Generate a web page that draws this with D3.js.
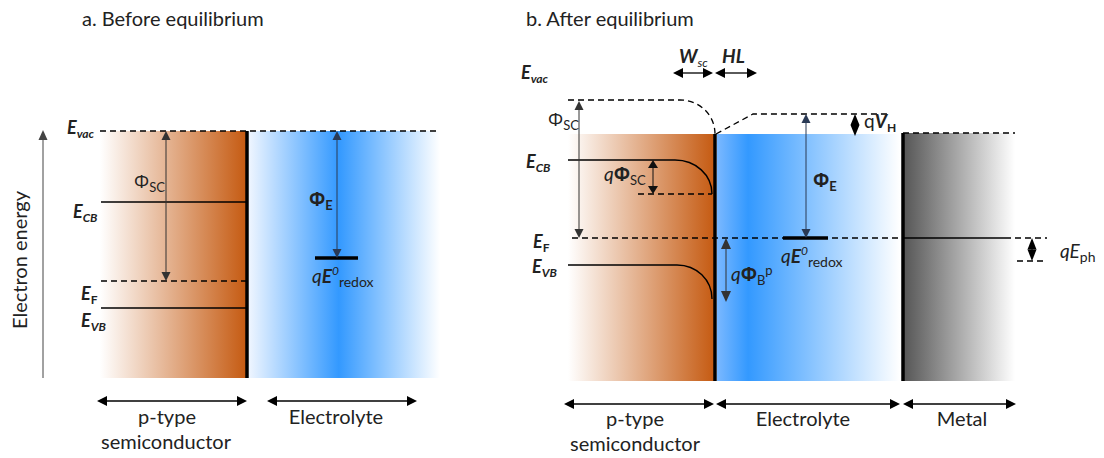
<!DOCTYPE html>
<html>
<head>
<meta charset="utf-8">
<script src="https://cdn.jsdelivr.net/npm/d3@7"></script>
<style>
  body { margin: 0; background: #fff; }
  svg { display: block; }
  text { font-family: Lato, "Open Sans", sans-serif; fill: #222; }
</style>
</head>
<body>
<svg id="fig" width="1104" height="458"></svg>
<script>
// ---- Data -------------------------------------------------------------
const panelTitles = ["a. Before equilibrium", "b. After equilibrium"];
const regionNamesA = ["p-type\nsemiconductor", "Electrolyte"];
const regionNamesB = ["p-type\nsemiconductor", "Electrolyte", "Metal"];
const layerNames = ["W", "HL"];

// Energies in eV, measured downward from the vacuum level at the
// semiconductor surface (positive = deeper / lower electron energy).
// Panel a: flat bands before contact.
const levelIdsA = ["Evac", "ECB", "EF", "EVB"];
const levelEnergyA = [0, 1.42, 3.0, 3.54];
const redoxEnergyA = 2.54;
const bottomEnergyA = 4.94;

// Panel b: bulk and surface values after equilibration.
const levelIdsB = ["Evac", "ECB", "EF", "EVB"];
const bulkEnergyB = [-0.68, 0.52, 2.08, 2.62];
const surfaceEnergyB = [0.0, 1.20, 2.08, 3.30];
const electrolyteVacB = -0.40;  // vacuum level across the electrolyte
const metalVacB = -0.02;        // vacuum level in the metal
const photoEnergyB = 0.46;      // qEph offset below EF
const barrierB = 1.28;          // qΦB^p
const bottomEnergyB = 4.94;

// ---- Scales -----------------------------------------------------------
const yA = d3.scaleLinear().domain([0, bottomEnergyA]).range([131, 378]);
const yB = d3.scaleLinear().domain([0, bottomEnergyB]).range([134, 381]);
// horizontal positions in nm-like units from the left edge of each stack
const xA = d3.scaleLinear().domain([0, 340]).range([100, 440]);
const xB = d3.scaleLinear().domain([0, 447]).range([568, 1015]);

// layout positions along x (same units as the x scales)
const A = { scL: 0, iface: 147, elR: 340 };
const B = { scL: 0, bendStart: 107, iface: 147, elL: 149, elR: 332, metal: 335, metR: 447,
            hl: 189, wsc: 105 };

const svg = d3.select("#fig");
const defs = svg.append("defs");

function gradient(id, stops) {
  const g = defs.append("linearGradient").attr("id", id)
    .attr("x1", 0).attr("x2", 1).attr("y1", 0).attr("y2", 0);
  stops.forEach(([o, c]) => g.append("stop").attr("offset", o).attr("stop-color", c));
}
gradient("scGrad", [[0, "#ffffff"], [1, "#c55a11"]]);
gradient("elGradA", [[0, "#eef5ff"], [0.47, "#3399ff"], [1, "#ffffff"]]);
gradient("elGradB", [[0, "#7ab8ff"], [0.17, "#3399ff"], [1, "#ffffff"]]);
gradient("metalGrad", [[0, "#555555"], [1, "#ffffff"]]);

// ---- Helpers ----------------------------------------------------------
function arrow(g, x1, y1, x2, y2, o = {}) {
  const { head = 9, hw = 4.5, start = true, end = true, color = "#333", width = 1 } = o;
  const dx = x2 - x1, dy = y2 - y1, L = Math.hypot(dx, dy);
  const ux = dx / L, uy = dy / L, px = -uy, py = ux;
  const sx = start ? x1 + ux * head * 0.7 : x1, sy = start ? y1 + uy * head * 0.7 : y1;
  const ex = end ? x2 - ux * head * 0.7 : x2, ey = end ? y2 - uy * head * 0.7 : y2;
  g.append("line").attr("x1", sx).attr("y1", sy).attr("x2", ex).attr("y2", ey)
    .attr("stroke", color).attr("stroke-width", width);
  const tri = (tx, ty, vx, vy) => {
    const bx = tx - vx * head, by = ty - vy * head;
    return `M${tx},${ty}L${bx + px * hw},${by + py * hw}L${bx - px * hw},${by - py * hw}Z`;
  };
  if (end) g.append("path").attr("d", tri(x2, y2, ux, uy)).attr("fill", color);
  if (start) g.append("path").attr("d", tri(x1, y1, -ux, -uy)).attr("fill", color);
}

function hline(g, x1, x2, y, o = {}) {
  g.append("line").attr("x1", x1).attr("x2", x2).attr("y1", y).attr("y2", y)
    .attr("stroke", o.color || "#000").attr("stroke-width", o.width || 1.4)
    .attr("stroke-dasharray", o.dash || null);
}

// band that is flat in the bulk and bends down into the surface
function bentBand(g, x0, xb, xs, y0, ys, o = {}) {
  const p = d3.path();
  p.moveTo(x0, y0);
  p.lineTo(xb, y0);
  const rx = xs - xb, ry = ys - y0, k = 0.56;
  p.bezierCurveTo(xb + rx * k, y0, xs, ys - ry * k, xs, ys);
  g.append("path").attr("d", p.toString()).attr("fill", "none")
    .attr("stroke", o.color || "#000").attr("stroke-width", o.width || 1.4)
    .attr("stroke-dasharray", o.dash || null);
}

// text with sub/superscripts: parts = [{t, size, bold, italic, shift, font}]
function rich(g, x, y, parts, anchor = "start") {
  const t = g.append("text").attr("x", x).attr("y", y).attr("text-anchor", anchor);
  let cur = 0;
  parts.forEach(p => {
    const s = p.shift || 0;
    const ts = t.append("tspan").attr("dy", -(s - cur)).text(p.t)
      .attr("font-size", p.size || 17)
      .attr("font-weight", p.bold ? "bold" : "normal")
      .attr("font-style", p.italic ? "italic" : "normal");
    if (p.font) ts.style("font-family", p.font);
    cur = s;
  });
  return t;
}
const GREEK = "'Open Sans', 'DejaVu Sans', sans-serif";
const E = (sub, subBold = true, subItalic = true) => [
  { t: "E", bold: true, italic: true, size: 18 },
  { t: sub, bold: subBold, italic: subItalic, size: 12, shift: -4 }
];
const PHI = (sub, bold = false, q = false) => [
  ...(q ? [{ t: "q", italic: true, size: 19 }] : []),
  { t: "Φ", size: 19, bold: bold, font: GREEK },
  { t: sub, size: 13, bold: bold && sub === "E", shift: -4 }
];
const REDOX = [
  { t: "q", italic: true, size: 19 },
  { t: "E", italic: true, bold: true, size: 19 },
  { t: "0", italic: true, size: 12, shift: 8 },
  { t: "redox", size: 14, shift: -4 }
];
const LABEL = 20;

// ---- Titles & axis ----------------------------------------------------
svg.append("text").attr("x", 82).attr("y", 26).attr("font-size", LABEL).text(panelTitles[0]);
svg.append("text").attr("x", 526).attr("y", 26).attr("font-size", LABEL).text(panelTitles[1]);

const axis = svg.append("g");
arrow(axis, 43, 378, 43, 130, { start: false, head: 10, hw: 4.5, color: "#444" });
axis.append("text").attr("transform", "translate(27,260) rotate(-90)")
  .attr("text-anchor", "middle").attr("font-size", LABEL).text("Electron energy");

// ---- Panel a ----------------------------------------------------------
const ga = svg.append("g");
ga.append("rect").attr("x", xA(A.scL)).attr("y", yA(0))
  .attr("width", xA(A.iface) - xA(A.scL)).attr("height", yA(bottomEnergyA) - yA(0))
  .attr("fill", "url(#scGrad)");
ga.append("rect").attr("x", xA(A.iface) + 2).attr("y", yA(0))
  .attr("width", xA(A.elR) - xA(A.iface) - 2).attr("height", yA(bottomEnergyA) - yA(0))
  .attr("fill", "url(#elGradA)");

const lvA = Object.fromEntries(levelIdsA.map((k, i) => [k, levelEnergyA[i]]));
hline(ga, xA(A.scL), xA(A.elR), yA(lvA.Evac), { dash: "6,4", width: 1.3 });
hline(ga, xA(A.scL) + 1, xA(A.iface), yA(lvA.ECB));
hline(ga, xA(A.scL) + 1, xA(A.iface), yA(lvA.EF), { dash: "6,4", width: 1.3 });
hline(ga, xA(A.scL) + 1, xA(A.iface), yA(lvA.EVB));
ga.append("line").attr("x1", xA(A.iface)).attr("x2", xA(A.iface))
  .attr("y1", yA(0)).attr("y2", yA(bottomEnergyA)).attr("stroke", "#000").attr("stroke-width", 3.5);

// redox level in electrolyte
hline(ga, xA(215), xA(258), yA(redoxEnergyA), { width: 3.5 });
arrow(ga, xA(66), yA(lvA.Evac), xA(66), yA(lvA.EF), { color: "#333" });
arrow(ga, xA(237), yA(lvA.Evac), xA(237), yA(redoxEnergyA), { color: "#2a3a55" });

rich(ga, 67, 134, E("vac"));
rich(ga, 73, 218, E("CB"));
rich(ga, 81, 300, E("F", true, false));
rich(ga, 81, 327, E("VB"));
rich(ga, 134, 188, PHI("SC"));
rich(ga, 309, 206, PHI("E", true));
rich(ga, 312, 283, REDOX);

// region labels
arrow(ga, 97, 401, 247, 401, { head: 10, hw: 5, color: "#000", width: 1.3 });
arrow(ga, 267, 401, 417, 401, { head: 10, hw: 5, color: "#000", width: 1.3 });
const [scNameA1, scNameA2] = regionNamesA[0].split("\n");
ga.append("text").attr("x", 167).attr("y", 424).attr("text-anchor", "middle").attr("font-size", LABEL).text(scNameA1);
ga.append("text").attr("x", 166).attr("y", 449).attr("text-anchor", "middle").attr("font-size", LABEL).text(scNameA2);
ga.append("text").attr("x", 336).attr("y", 424).attr("text-anchor", "middle").attr("font-size", LABEL).text(regionNamesA[1]);

// ---- Panel b ----------------------------------------------------------
const gb = svg.append("g");
const bulk = Object.fromEntries(levelIdsB.map((k, i) => [k, bulkEnergyB[i]]));
const surf = Object.fromEntries(levelIdsB.map((k, i) => [k, surfaceEnergyB[i]]));

gb.append("rect").attr("x", xB(B.scL)).attr("y", yB(0))
  .attr("width", xB(B.iface) - xB(B.scL)).attr("height", yB(bottomEnergyB) - yB(0))
  .attr("fill", "url(#scGrad)");
gb.append("rect").attr("x", xB(B.elL)).attr("y", yB(0))
  .attr("width", xB(B.elR) - xB(B.elL)).attr("height", yB(bottomEnergyB) - yB(0))
  .attr("fill", "url(#elGradB)");
gb.append("rect").attr("x", xB(B.metal)).attr("y", yB(metalVacB))
  .attr("width", xB(B.metR) - xB(B.metal)).attr("height", yB(bottomEnergyB) - yB(metalVacB))
  .attr("fill", "url(#metalGrad)");

// vacuum level: bends down to the surface, then rises across the Helmholtz layer
bentBand(gb, xB(B.scL), xB(112), xB(B.iface), yB(bulk.Evac), yB(surf.Evac), { dash: "6,4", width: 1.3 });
gb.append("path").attr("fill", "none").attr("stroke", "#000").attr("stroke-width", 1.3)
  .attr("stroke-dasharray", "6,4")
  .attr("d", d3.line()([[xB(B.iface) + 1, yB(surf.Evac)], [xB(B.hl - 4), yB(electrolyteVacB)], [xB(320), yB(electrolyteVacB)]]));
hline(gb, xB(B.metal), xB(B.metR), yB(metalVacB), { dash: "6,4", width: 1.3 });

// conduction and valence bands
bentBand(gb, xB(B.scL), xB(B.bendStart), xB(144), yB(bulk.ECB), yB(surf.ECB));
hline(gb, xB(70), xB(144), yB(surf.ECB), { dash: "6,4", width: 1.3 });
bentBand(gb, xB(B.scL), xB(109), xB(144), yB(bulk.EVB), yB(surf.EVB));

// Fermi level continuous through the stack
hline(gb, xB(4), xB(B.metal), yB(bulk.EF), { dash: "6,4", width: 1.3 });
hline(gb, xB(B.metal), xB(437), yB(bulk.EF), { width: 1.4 });
hline(gb, xB(437), xB(479), yB(bulk.EF), { dash: "6,4", width: 1.3 });
hline(gb, xB(449), xB(479), yB(bulk.EF + photoEnergyB), { dash: "6,4", width: 1.3 });

// interfaces
gb.append("line").attr("x1", xB(B.iface)).attr("x2", xB(B.iface))
  .attr("y1", yB(0)).attr("y2", yB(bottomEnergyB)).attr("stroke", "#000").attr("stroke-width", 3.5);
gb.append("line").attr("x1", xB(B.metal)).attr("x2", xB(B.metal))
  .attr("y1", yB(metalVacB)).attr("y2", yB(bottomEnergyB)).attr("stroke", "#000").attr("stroke-width", 3.5);

// redox level
hline(gb, xB(215), xB(260), yB(bulk.EF), { width: 3.5 });

// arrows
arrow(gb, xB(11), yB(bulk.Evac) + 1, xB(11), yB(bulk.EF), { color: "#333" });
arrow(gb, xB(85), yB(bulk.ECB), xB(85), yB(surf.ECB), { head: 8, hw: 5, color: "#111" });
arrow(gb, xB(158), yB(bulk.EF), xB(158), yB(bulk.EF + barrierB), { head: 11, hw: 5, color: "#333" });
arrow(gb, xB(238), yB(electrolyteVacB), xB(238), yB(bulk.EF), { color: "#2a3a55" });
arrow(gb, xB(287), yB(electrolyteVacB), xB(287), yB(0.04), { head: 11, hw: 4.5, color: "#000" });
arrow(gb, xB(464), yB(bulk.EF), xB(464), yB(bulk.EF + photoEnergyB), { head: 11.5, hw: 4.5, color: "#000" });

// depletion width and Helmholtz layer
arrow(gb, xB(B.wsc), 73, xB(B.iface) - 2, 73, { head: 10, hw: 5, color: "#000", width: 1.3 });
arrow(gb, xB(B.iface), 73, xB(B.hl), 73, { head: 10, hw: 5, color: "#000", width: 1.3 });
rich(gb, 679, 63, [{ t: layerNames[0], bold: true, italic: true, size: 19 }, { t: "sc", italic: true, size: 12, shift: -4 }]);
rich(gb, 722, 63, [{ t: layerNames[1], bold: true, italic: true, size: 19 }]);

rich(gb, 521, 79, E("vac"));
rich(gb, 548, 126, PHI("SC"));
rich(gb, 526, 168, E("CB"));
rich(gb, 604, 181, PHI("SC", false, true).map((p, i) => i === 1 ? { ...p, bold: true } : p));
rich(gb, 533, 248, E("F", true, false));
rich(gb, 532, 273, E("VB"));
rich(gb, 731, 281, [
  { t: "q", italic: true, size: 19 },
  { t: "Φ", bold: true, size: 19, font: GREEK },
  { t: "B", size: 13, shift: -4 },
  { t: "p", size: 13, shift: 6 }
]);
rich(gb, 813, 187, PHI("E", true));
rich(gb, 781, 263, REDOX);
rich(gb, 864, 128, [
  { t: "q", size: 19 },
  { t: "V", bold: true, italic: true, size: 19 },
  { t: "H", bold: true, size: 12, shift: -4 }
]);
rich(gb, 1060, 258, [
  { t: "q", italic: true, size: 19 },
  { t: "E", italic: true, size: 19 },
  { t: "ph", size: 14, shift: -4 }
]);

// region labels
arrow(gb, 564, 404, 714, 404, { head: 10, hw: 5, color: "#000", width: 1.3 });
arrow(gb, 716, 404, 900, 404, { head: 10, hw: 5, color: "#000", width: 1.3 });
arrow(gb, 903, 404, 1016, 404, { head: 10, hw: 5, color: "#000", width: 1.3 });
const [scNameB1, scNameB2] = regionNamesB[0].split("\n");
gb.append("text").attr("x", 635).attr("y", 426).attr("text-anchor", "middle").attr("font-size", LABEL).text(scNameB1);
gb.append("text").attr("x", 635).attr("y", 451).attr("text-anchor", "middle").attr("font-size", LABEL).text(scNameB2);
gb.append("text").attr("x", 803).attr("y", 426).attr("text-anchor", "middle").attr("font-size", LABEL).text(regionNamesB[1]);
gb.append("text").attr("x", 962).attr("y", 426).attr("text-anchor", "middle").attr("font-size", LABEL).text(regionNamesB[2]);
</script>
</body>
</html>
